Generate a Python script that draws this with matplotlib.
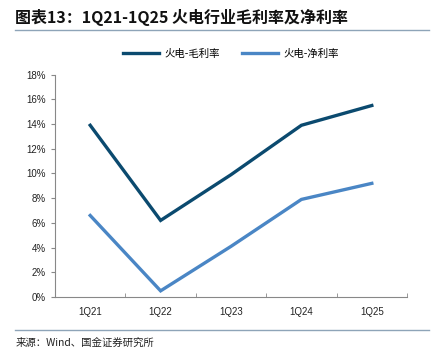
import matplotlib
matplotlib.use('Agg')
import matplotlib.pyplot as plt
from matplotlib.ticker import FixedLocator, PercentFormatter
from matplotlib.lines import Line2D

plt.rcParams['font.family'] = ['Noto Sans CJK SC', 'DejaVu Sans']

# data
quarters = ['1Q21', '1Q22', '1Q23', '1Q24', '1Q25']
gross_margin = [13.9, 6.2, 9.9, 13.9, 15.5]
net_margin = [6.6, 0.5, 4.1, 7.9, 9.2]

dark = '#0b4a6f'
light = '#4a86c5'
rule = '#8ea4b8'

fig = plt.figure(figsize=(4.33, 3.64), dpi=100)
ax = fig.add_axes([0.127, 0.184, 0.813, 0.611])

x = list(range(len(quarters)))
ax.plot(x, gross_margin, color=dark, lw=2.4, label='火电-毛利率', solid_joinstyle='miter')
ax.plot(x, net_margin, color=light, lw=2.4, label='火电-净利率', solid_joinstyle='miter')

ax.set_xlim(-0.5, len(quarters) - 0.5)
ax.set_ylim(0, 18)
ax.set_yticks(range(0, 19, 2))
ax.yaxis.set_major_formatter(PercentFormatter(decimals=0))
ax.set_xticks(x)
ax.set_xticklabels(quarters)
ax.xaxis.set_minor_locator(FixedLocator([i + 0.5 for i in range(len(quarters))]))
ax.tick_params(axis='x', which='major', length=0, pad=7, labelsize=7, colors='#222222')
ax.tick_params(axis='x', which='minor', length=3, direction='in', color='#888888')
ax.tick_params(axis='y', length=3, direction='out', labelsize=7, color='#888888', labelcolor='#222222')
for lbl in ax.get_xticklabels() + ax.get_yticklabels():
    lbl.set_family(['Liberation Sans', 'DejaVu Sans'])
for s in ['top', 'right']:
    ax.spines[s].set_visible(False)
for s in ['left', 'bottom']:
    ax.spines[s].set_color('#888888')
    ax.spines[s].set_linewidth(0.8)

leg = ax.legend(loc='lower center', bbox_to_anchor=(0.5, 1.03), ncol=2, frameon=False,
                fontsize=7.5, handlelength=3.4, columnspacing=2.2, handletextpad=0.5)

fig.text(0.035, 0.953, '图表13：1Q21-1Q25 火电行业毛利率及净利率', fontsize=11.5,
         fontweight='bold', color='#111111', ha='left', va='center')
fig.add_artist(Line2D([0.035, 0.99], [0.917, 0.917], color=rule, lw=1))
fig.add_artist(Line2D([0.035, 0.99], [0.093, 0.093], color=rule, lw=1))
fig.text(0.035, 0.058, '来源：Wind、国金证券研究所', fontsize=7.5, color='#222222',
         ha='left', va='center')

fig.savefig('out.png', dpi=100)
